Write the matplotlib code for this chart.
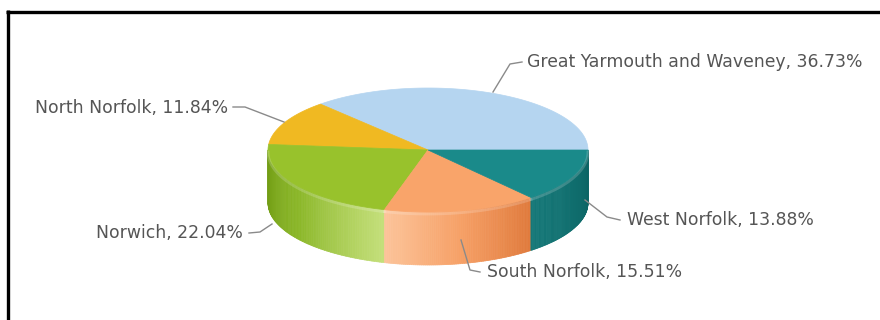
import numpy as np
import matplotlib
matplotlib.use("Agg")
import matplotlib.pyplot as plt
from matplotlib.patches import Polygon
from matplotlib.collections import PolyCollection

# data
names = ["Great Yarmouth and Waveney", "North Norfolk", "Norwich", "South Norfolk", "West Norfolk"]
shares = [36.73, 11.84, 22.04, 15.51, 13.88]

top_colors = ["#b5d5f0", "#f0b922", "#98c22c", "#f9a46a", "#1a8a8a"]
# side gradient stops (left -> right)
side_colors = [
    ["#9fc3e3", "#9fc3e3"],
    ["#d89a10", "#e8b020"],
    ["#6f9a12", "#8cb82a", "#c4df7a"],
    ["#fcc49a", "#f6a066", "#e07a3c"],
    ["#157878", "#0b6464"],
]

# label layout (pixels)
label_pos = [(527, 62, "left"), (228, 108, "right"), (243, 233, "right"), (487, 272, "left"), (627, 220, "left")]
leaders = [
    [(493, 92), (510, 64), (522, 62)],
    [(284, 122), (245, 107), (233, 107)],
    [(272, 224), (260, 232), (249, 233)],
    [(461, 240), (470, 270), (480, 272)],
    [(585, 200), (607, 217), (620, 220)],
]

cx, cy, rx, ry, depth = 428, 150, 160, 62, 53

fig = plt.figure(figsize=(8.8, 3.2), dpi=100)
ax = fig.add_axes([0, 0, 1, 1])
ax.set_xlim(0, 880)
ax.set_ylim(320, 0)
ax.axis("off")


def edge(t):
    return cx + rx * np.cos(np.radians(t)), cy - ry * np.sin(np.radians(t))


def mix(stops, f):
    rgb = [np.array(matplotlib.colors.to_rgb(c)) for c in stops]
    pos = f * (len(rgb) - 1)
    i = min(int(pos), len(rgb) - 2)
    w = pos - i
    return rgb[i] * (1 - w) + rgb[i + 1] * w


angles = np.cumsum([0] + [s * 3.6 for s in shares])

# front side walls
for i in range(len(shares)):
    a0, a1 = max(angles[i], 180), min(angles[i + 1], 360)
    if a1 <= a0:
        continue
    ts = np.linspace(a0, a1, 80)
    strips, cols = [], []
    for k in range(len(ts) - 1):
        x0, y0 = edge(ts[k])
        x1, y1 = edge(ts[k + 1])
        strips.append([(x0, y0), (x1, y1), (x1, y1 + depth), (x0, y0 + depth)])
        cols.append(mix(side_colors[i], k / (len(ts) - 2)))
    ax.add_collection(PolyCollection(strips, facecolors=cols, edgecolors=cols, linewidths=0.5))
    xs, ys = edge(ts)
    ax.plot(xs, ys + 2, color="white", alpha=0.18, lw=2)

# top faces
for i in range(len(shares)):
    ts = np.linspace(angles[i], angles[i + 1], 120)
    xs, ys = edge(ts)
    pts = [(cx, cy)] + list(zip(xs, ys))
    ax.add_patch(Polygon(pts, closed=True, facecolor=top_colors[i], edgecolor=top_colors[i], lw=0.5))

# labels
for i in range(len(shares)):
    lx, ly = zip(*leaders[i])
    ax.plot(lx, ly, color="#8a8a8a", lw=1)
    x, y, ha = label_pos[i]
    ax.text(x, y, f"{names[i]}, {shares[i]:.2f}%", ha=ha, va="center",
            fontsize=12.4, color="#555555", family="DejaVu Sans")

# frame
ax.plot([6, 880], [11.5, 11.5], color="black", lw=2.4, solid_capstyle="butt")
ax.plot([7.5, 7.5], [10, 320], color="black", lw=2.4, solid_capstyle="butt")

fig.savefig("out.png", dpi=100)
